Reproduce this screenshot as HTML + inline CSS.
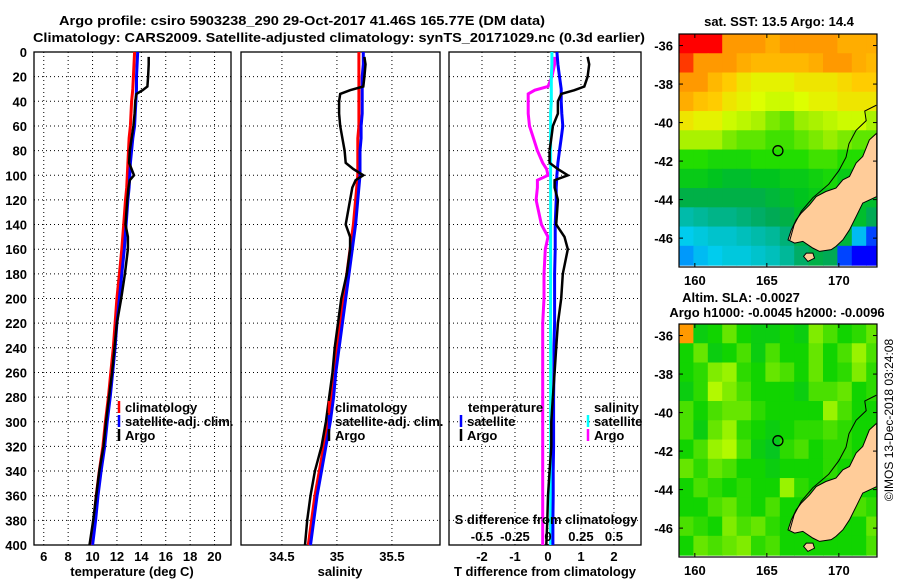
<!DOCTYPE html>
<html><head><meta charset="utf-8"><style>
html,body{margin:0;padding:0;background:#fff;}
svg{display:block;font-family:"Liberation Sans",Arial,sans-serif;}
.b{font-weight:bold;font-size:13px;}
</style></head><body>
<svg id="c" width="900" height="580" viewBox="0 0 900 580" xmlns="http://www.w3.org/2000/svg">
<text class="b" x="59" y="25" font-size="15" textLength="486" lengthAdjust="spacingAndGlyphs">Argo profile: csiro 5903238_290 29-Oct-2017 41.46S 165.77E (DM data)</text>
<text class="b" x="33" y="42" textLength="612" lengthAdjust="spacingAndGlyphs">Climatology: CARS2009. Satellite-adjusted climatology: synTS_20171029.nc (0.3d earlier)</text>
<text class="b" x="779" y="26" text-anchor="middle">sat. SST: 13.5 Argo: 14.4</text>
<text class="b" x="741" y="302" text-anchor="middle">Altim. SLA: -0.0027</text>
<text class="b" x="777" y="317" text-anchor="middle">Argo h1000: -0.0045 h2000: -0.0096</text>
<text x="893" y="420" font-size="12" text-anchor="middle" transform="rotate(-90 893 420)">©IMOS 13-Dec-2018 03:24:08</text>
</svg>
<script>
// ---- profile data ----
const tDepth=[0,10,20,30,40,50,60,70,80,90,100,110,120,140,160,180,200,220,240,260,280,300,320,340,360,380,400];
const tClim=[13.45,13.4,13.35,13.3,13.2,13.15,13.1,13.0,12.95,12.9,12.85,12.8,12.7,12.55,12.4,12.2,12.0,11.85,11.7,11.5,11.3,11.05,10.85,10.55,10.3,10.1,9.85];
const tSat=[13.7,13.65,13.6,13.6,13.55,13.5,13.45,13.3,13.2,13.1,13.05,13.0,12.9,12.75,12.6,12.4,12.2,12.0,11.85,11.65,11.45,11.2,11.0,10.7,10.45,10.25,10.0];
const argoDepth=[4,10,20,28,31,34,40,50,60,70,80,90,95,100,104,110,120,140,150,160,180,200,220,240,260,280,300,320,340,360,380,400];
const argoT=[14.6,14.6,14.55,14.5,14.1,13.6,13.5,13.45,13.35,13.2,13.05,13.0,13.2,13.4,13.05,12.95,12.85,12.7,12.9,12.9,12.65,12.35,12.0,11.8,11.6,11.35,11.1,10.9,10.55,10.3,10.05,9.75];
const sClim=[35.2,35.2,35.2,35.2,35.2,35.2,35.2,35.19,35.19,35.19,35.19,35.18,35.17,35.15,35.12,35.09,35.06,35.03,35.0,34.97,34.95,34.92,34.88,34.84,34.8,34.77,34.74];
const sSat=[35.24,35.24,35.23,35.23,35.23,35.23,35.22,35.22,35.21,35.21,35.21,35.2,35.19,35.17,35.14,35.11,35.08,35.05,35.02,34.99,34.97,34.94,34.9,34.86,34.82,34.79,34.76];
const argoS=[35.25,35.26,35.25,35.24,35.12,35.03,35.02,35.02,35.03,35.05,35.07,35.08,35.15,35.24,35.17,35.14,35.12,35.08,35.12,35.12,35.09,35.04,35.01,34.98,34.96,34.93,34.9,34.86,34.8,34.76,34.73,34.71];
const tDiffSat=[0.27,0.3,0.35,0.4,0.4,0.42,0.45,0.4,0.35,0.3,0.27,0.25,0.25,0.22,0.22,0.2,0.2,0.2,0.18,0.18,0.17,0.17,0.17,0.16,0.16,0.15,0.15];
const tDiffArgo=[1.2,1.25,1.2,1.1,0.8,0.4,0.3,0.3,0.15,0.1,0.05,0.05,0.3,0.6,0.2,0.2,0.3,0.25,0.5,0.6,0.45,0.4,0.3,0.25,0.2,0.15,0.1,0.1,0.05,0.0,-0.02,-0.05];
const sDiffSat=[0.03,0.03,0.025,0.025,0.025,0.02,0.02,0.02,0.02,0.02,0.02,0.02,0.02,0.02,0.02,0.02,0.02,0.02,0.02,0.02,0.02,0.02,0.02,0.02,0.02,0.02,0.02];
const sDiffArgo=[0.05,0.05,0.03,0.0,-0.1,-0.15,-0.15,-0.15,-0.14,-0.11,-0.08,-0.04,-0.01,0.0,-0.08,-0.08,-0.09,-0.05,0.0,-0.02,-0.03,-0.03,-0.04,-0.04,-0.04,-0.04,-0.04,-0.04,-0.04,-0.04,-0.04,-0.04];
const depthTicks=[0,20,40,60,80,100,120,140,160,180,200,220,240,260,280,300,320,340,360,380,400];
const tTicks=[6,8,10,12,14,16,18,20];
const sTicks=[34.5,35,35.5];
const dTicks=[-2,-1,0,1,2];
const sdTicks=[-0.5,-0.25,0,0.25,0.5];
const sdTickLabels=['-0.5','-0.25','0','0.25','0.5'];
// ---- map data ----
const mapLonTicks=[160,165,170];
const mapLatTicks=[-36,-38,-40,-42,-44,-46];
const sstGrid=[
[16,16,16,15,15,15,14.8,15,15,15,15,14.8,14.8,14.8],
[15.5,15,15,15,14.8,14.7,14.7,14.7,14.7,14.8,15,15,14.8,14.7],
[15,15,14.7,14.5,14.3,14.2,14.2,14.2,14.3,14.3,14.3,14.4,14.5,14.5],
[14.8,14.6,14.5,14.3,14.2,14.1,14,14,14.1,14.2,14.2,14.3,14.3,14.3],
[14.3,14.2,14.2,14,13.9,13.8,13.6,13.5,13.7,13.8,13.9,14,14,13.8],
[13.8,13.8,13.8,13.6,13.5,13.5,13.4,13.4,13.5,13.6,13.7,13.6,13.5,13.5],
[13.3,13.3,13.2,13.2,13.2,13.3,13.3,13.3,13.3,13.4,13.4,13.3,13.3,13.3],
[13,13,12.9,12.8,12.8,12.9,12.9,13,13,13.1,13.2,13,13,13],
[12.6,12.6,12.6,12.6,12.6,12.6,12.7,12.8,12.9,13,13,13,12.8,12.8],
[12,12.1,12.2,12.2,12.3,12.4,12.5,12.6,12.8,13,13,13,12.8,12.5],
[11.6,11.7,11.8,11.8,11.9,12,12.1,12.3,12.6,12.9,12.9,12.7,11.5,11],
[11.3,11.5,11.6,11.7,11.7,11.8,11.9,12.1,12.4,12.6,12.5,11,10.8,10.8]];
const slaGrid=[
[1.5,0.2,0.3,0.6,0.3,0.2,0.2,0.3,0.2,0.7,0.5,0.3,0.4,0.6],
[0.3,0.6,0.2,0.3,0.5,0.2,0.5,0.3,0.3,0.6,0.3,0.5,0.8,0.5],
[0.3,0.4,0.7,0.8,0.4,0.3,0.6,0.5,0.3,0.6,0.3,0.4,0.7,0.4],
[0.2,0.4,0.9,0.7,0.5,0.3,0.3,0.3,0.2,0.5,0.5,0.6,0.3,0.4],
[0.5,0.3,0.5,0.6,0.6,0.4,0.3,0.3,0.3,0.3,0.8,0.5,0.3,0.3],
[0.5,0.2,0.6,0.8,0.4,0.3,0.2,0.3,0.4,0.4,0.5,0.4,0.3,0.3],
[0.3,0.5,0.8,0.9,0.5,0.2,0.1,0.4,0.5,0.3,0.4,0.4,0.3,0.3],
[0.6,0.4,0.6,0.5,0.3,0.3,0.2,0.3,0.3,0.3,0.4,0.3,0.3,0.3],
[0.3,0.5,0.4,0.3,0.4,0.3,0.3,0.8,0.4,0.3,0.3,0.3,0.3,0.3],
[0.3,0.3,0.5,0.6,0.4,0.3,0.5,0.3,0.3,0.3,0.3,0.3,0.5,0.4],
[0.5,0.4,0.3,0.7,0.5,0.6,0.4,0.3,0.3,0.3,0.3,0.3,0.3,0.6],
[0.3,0.6,0.5,0.6,0.7,0.4,0.5,0.3,0.3,0.3,0.3,0.3,0.3,0.5]];
const gridLon0=158.9, gridLat0=-35.4;
const landLon=[172.63,172.12,171.66,171.2,170.74,170.28,169.8,169.1,168.43,167.97,167.39,167.04,166.7,166.47,166.93,167.5,168.2,168.66,169.47,169.8,170.28,170.74,171.2,171.66,172.63];
const landLat=[-40.55,-40.9,-41.76,-42.1,-42.8,-42.97,-43.4,-43.58,-43.84,-44.27,-44.7,-45.05,-45.57,-46.09,-46.26,-46.17,-46.52,-46.69,-46.6,-46.43,-46.09,-45.57,-44.88,-44.18,-43.84];
const islandLon=[167.74,168.2,168.31,167.85,167.55];
const islandLat=[-46.78,-46.78,-47.04,-47.21,-46.95];
const contourLon=[172.6,171.8,171.9,171.2,170.7,170.5,170.0,169.3,168.2,167.4,166.9,166.6];
const contourLat=[-39.1,-39.4,-39.9,-40.4,-41.1,-41.8,-42.5,-43.2,-43.9,-44.6,-45.3,-46.1];
const argoLon=165.77, argoLat=-41.46;

const svg=document.getElementById('c');
const NS='http://www.w3.org/2000/svg';
function mk(tag,attrs,parent){const e=document.createElementNS(NS,tag);for(const k in attrs)e.setAttribute(k,attrs[k]);(parent||svg).appendChild(e);return e;}
const yTop=52,yBot=545,dMax=400;
const yD=d=>yTop+(d/dMax)*(yBot-yTop);
const panels=[
 {x0:34,x1:231,min:5.2,max:21.35,ticks:tTicks,name:'temperature'},
 {x0:241,x1:440,min:34.128,max:35.937,ticks:sTicks,name:'salinity'},
 {x0:449,x1:641,min:-3.0,max:2.82,ticks:dTicks,name:'difference'}];
panels.forEach(p=>{p.sx=v=>p.x0+(v-p.min)/(p.max-p.min)*(p.x1-p.x0);});
const sdMin=-0.75,sdMax=0.705;
const sxS=v=>panels[2].x0+(v-sdMin)/(sdMax-sdMin)*(panels[2].x1-panels[2].x0);

panels.forEach((p,i)=>{
 const g=mk('g',{});
 
 
 p.ticks.forEach(t=>{
  const x=p.sx(t);
  const l=mk('line',{x1:x,x2:x,y1:yTop,y2:yBot,stroke:'#000','stroke-width':1,'stroke-dasharray':'1,3'},g);
  
  
  const tx=mk('text',{x:x,y:561,'text-anchor':'middle',class:'b'},g);
  
  
  tx.textContent=String(t);
 });
 depthTicks.forEach(d=>{
  const y=yD(d);
  const l=mk('line',{x1:p.x0,x2:p.x1,y1:y,y2:y,stroke:'#000','stroke-width':1,'stroke-dasharray':'1,3'},g);
  
  
  if(i===0){
   const tx=mk('text',{x:27,y:y+5,'text-anchor':'end',class:'b'},g);
   
   
   tx.textContent=String(d);
  }
 });
 const r=mk('rect',{x:p.x0,y:yTop,width:p.x1-p.x0,height:yBot-yTop,fill:'none',stroke:'#000','stroke-width':1.3},g);
 
 
});
function line(p,sx,vals,depths,color,w,name){
 const pts=vals.map((v,i)=>sx(v).toFixed(1)+','+yD(depths[i]).toFixed(1)).join(' ');
 const e=mk('polyline',{points:pts,fill:'none',stroke:color,'stroke-width':w,'stroke-linejoin':'miter'});
 
 
}
const P=panels;
line(P[0],P[0].sx,tClim,tDepth,'#ff0000',3,'temperature-climatology-line');
line(P[0],P[0].sx,tSat,tDepth,'#0000ff',3,'temperature-satellite-line');
line(P[0],P[0].sx,argoT,argoDepth,'#000',2.5,'temperature-argo-line');
line(P[1],P[1].sx,sClim,tDepth,'#ff0000',3,'salinity-climatology-line');
line(P[1],P[1].sx,sSat,tDepth,'#0000ff',3,'salinity-satellite-line');
line(P[1],P[1].sx,argoS,argoDepth,'#000',2.5,'salinity-argo-line');
line(P[2],sxS,sDiffArgo,argoDepth,'#ff00ff',3,'salinity-diff-argo-line');
line(P[2],sxS,sDiffSat,tDepth,'#00ffff',3,'salinity-diff-satellite-line');
line(P[2],P[2].sx,tDiffSat,tDepth,'#0000ff',3,'temperature-diff-satellite-line');
line(P[2],P[2].sx,tDiffArgo,argoDepth,'#000',2.5,'temperature-diff-argo-line');

[['temperature (deg C)',132,'temperature-axis-title'],['salinity',340,'salinity-axis-title'],['T difference from climatology',545,'t-diff-axis-title']].forEach(a=>{
 const t=mk('text',{x:a[1],y:576,'text-anchor':'middle',class:'b'});
 
 
 t.textContent=a[0];
});
const sdT=mk('text',{x:546,y:524,'text-anchor':'middle',class:'b'});


sdT.textContent='S difference from climatology';
sdTicks.forEach((v,i)=>{
 const t=mk('text',{x:sxS(v),y:541,'text-anchor':'middle',class:'b'});
 
 
 t.textContent=sdTickLabels[i];
});
function leg(x,y,color,label,name){
 const l=mk('line',{x1:x,x2:x,y1:y-11,y2:y+1,stroke:color,'stroke-width':2.5});
 
 
 const t=mk('text',{x:x+6,y:y,class:'b'});
 
 
 t.textContent=label;
}
leg(119,412,'#ff0000','climatology','legend-temp-climatology');
leg(119,426,'#0000ff','satellite-adj. clim.','legend-temp-satellite');
leg(119,440,'#000','Argo','legend-temp-argo');
leg(329,412,'#ff0000','climatology','legend-sal-climatology');
leg(329,426,'#0000ff','satellite-adj. clim.','legend-sal-satellite');
leg(329,440,'#000','Argo','legend-sal-argo');
const lt=mk('text',{x:468,y:412,class:'b'});


lt.textContent='temperature';
const ls=mk('text',{x:594,y:412,class:'b'});


ls.textContent='salinity';
leg(461,426,'#0000ff','satellite','legend-tdiff-satellite');
leg(461,440,'#000','Argo','legend-tdiff-argo');
leg(588,426,'#00ffff','satellite','legend-sdiff-satellite');
leg(588,440,'#ff00ff','Argo','legend-sdiff-argo');

// ---- maps ----
const mx0=679,mx1=877,lonMin=158.9,lonMax=172.65,latMax=-35.4,latMin=-47.5;
const mxL=lon=>mx0+(lon-lonMin)/(lonMax-lonMin)*(mx1-mx0);
function hex(c){return [1,3,5].map(i=>parseInt(c.substr(i,2),16));}
function cmap(stops,v){
 if(v<=stops[0][0])return stops[0][1];
 for(let i=1;i<stops.length;i++){if(v<=stops[i][0]){const a=hex(stops[i-1][1]),b=hex(stops[i][1]),f=(v-stops[i-1][0])/(stops[i][0]-stops[i-1][0]);return 'rgb('+a.map((x,k)=>Math.round(x+(b[k]-x)*f)).join(',')+')';}}
 return stops[stops.length-1][1];
}
const sstStops=[[10.8,'#0000ff'],[11.2,'#0088ff'],[11.6,'#00ccee'],[12.0,'#00bbaa'],[12.5,'#00aa55'],[12.9,'#00c41e'],[13.3,'#22dd00'],[13.7,'#99ee00'],[14.1,'#ddff00'],[14.5,'#ffcc00'],[15.0,'#ff9900'],[15.8,'#ff0000']];
const slaStops=[[0,'#00c030'],[0.3,'#11d400'],[0.6,'#66e600'],[1.0,'#ccff00'],[1.5,'#ff9900']];
function drawMap(y0,y1,grid,stops,name){
 const myL=lat=>y0+(latMax-lat)/(latMax-latMin)*(y1-y0);
 const g=mk('g',{});
 
 
 const cid=name+'-clip';
 const cp=mk('clipPath',{id:cid},g);mk('rect',{x:mx0,y:y0,width:mx1-mx0,height:y1-y0},cp);
 const cg=mk('g',{'clip-path':'url(#'+cid+')'},g);
 grid.forEach((row,j)=>row.forEach((v,i)=>{
  const xa=mxL(gridLon0+i),xb=mxL(gridLon0+i+1),ya=myL(gridLat0-j),yb=myL(gridLat0-j-1);
  const c=mk('rect',{x:xa,y:ya,width:xb-xa+0.6,height:yb-ya+0.6,fill:cmap(stops,v)},cg);
  
  
 }));
 const land=mk('polygon',{points:landLon.map((lo,i)=>mxL(lo)+','+myL(landLat[i])).join(' '),fill:'#ffcc99',stroke:'#000','stroke-width':1},cg);
 
 
 const isl=mk('polygon',{points:islandLon.map((lo,i)=>mxL(lo)+','+myL(islandLat[i])).join(' '),fill:'#ffcc99',stroke:'#000','stroke-width':1},cg);
 
 
 const ct=mk('polyline',{points:contourLon.map((lo,i)=>mxL(lo)+','+myL(contourLat[i])).join(' '),fill:'none',stroke:'#000','stroke-width':1},cg);
 
 
 const ci=mk('circle',{cx:mxL(argoLon),cy:myL(argoLat),r:5,fill:'none',stroke:'#000','stroke-width':1.3},g);
 
 
 const fr=mk('rect',{x:mx0,y:y0,width:mx1-mx0,height:y1-y0,fill:'none',stroke:'#000','stroke-width':1.2},g);
 
 
 mapLonTicks.forEach(lo=>{
  const x=mxL(lo);
  mk('line',{x1:x,x2:x,y1:y0,y2:y0+4,stroke:'#000'},g);
  mk('line',{x1:x,x2:x,y1:y1,y2:y1-4,stroke:'#000'},g);
  const t=mk('text',{x:x,y:y1+18,'text-anchor':'middle',class:'b'},g);
  
  
  t.textContent=String(lo);
 });
 mapLatTicks.forEach(la=>{
  const y=myL(la);
  mk('line',{x1:mx0,x2:mx0+4,y1:y,y2:y,stroke:'#000'},g);
  mk('line',{x1:mx1,x2:mx1-4,y1:y,y2:y,stroke:'#000'},g);
  const t=mk('text',{x:673,y:y+5,'text-anchor':'end',class:'b'},g);
  
  
  t.textContent=String(la);
 });
}
drawMap(34,267,sstGrid,sstStops,'sst-map');
drawMap(324,557,slaGrid,slaStops,'sla-map');
</script>
</body></html>
